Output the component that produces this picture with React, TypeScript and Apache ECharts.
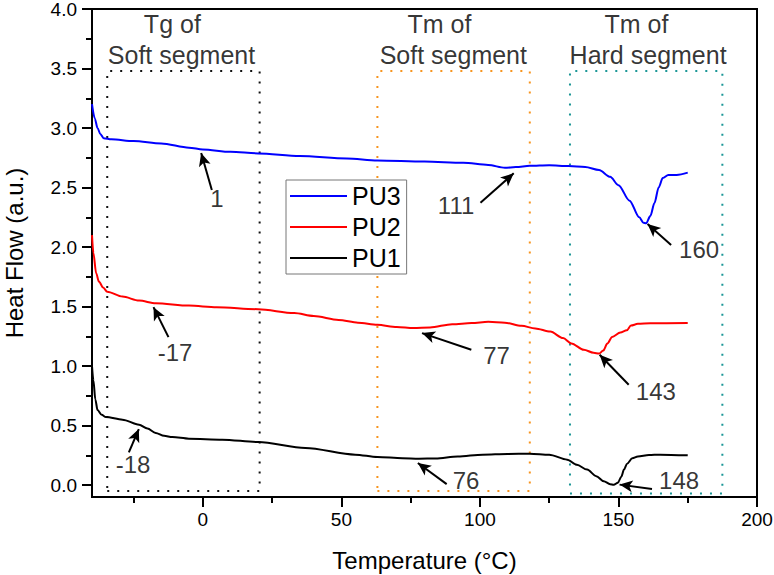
import React, { useEffect, useRef } from "react";
import * as echarts from "echarts";

// ---- Data ----
const pu3Temp = [-40, -39, -38, -37, -35.8, -33, -25, -15, -5, 0, 10, 20, 35, 52, 63, 80, 94, 103, 109, 113, 118, 125, 132, 138, 143, 147, 150, 154, 157.5, 159, 160, 161.5, 163, 164.5, 166, 168, 171, 175];
const pu3Flow = [3.2, 3.08, 3.0, 2.95, 2.915, 2.905, 2.89, 2.87, 2.835, 2.82, 2.8, 2.787, 2.765, 2.745, 2.728, 2.718, 2.708, 2.69, 2.666, 2.672, 2.683, 2.688, 2.68, 2.672, 2.647, 2.59, 2.52, 2.39, 2.25, 2.205, 2.2, 2.26, 2.37, 2.5, 2.58, 2.605, 2.606, 2.625];

const pu2Temp = [-40, -39.5, -38.5, -37.5, -36, -34.5, -29, -23, -17, -5, 5, 20, 33, 40, 49, 56, 63, 70, 76, 82, 90, 97, 103, 109, 115, 120, 125.4, 130, 133, 137.5, 141, 143, 144.5, 146, 147.7, 150.7, 153, 154.5, 157, 161.5, 175];
const pu2Flow = [2.1, 1.95, 1.78, 1.71, 1.66, 1.625, 1.584, 1.55, 1.528, 1.508, 1.495, 1.478, 1.445, 1.42, 1.388, 1.365, 1.347, 1.328, 1.319, 1.325, 1.352, 1.361, 1.372, 1.365, 1.338, 1.316, 1.29, 1.235, 1.19, 1.137, 1.112, 1.105, 1.13, 1.19, 1.245, 1.282, 1.3, 1.34, 1.355, 1.36, 1.361];

const pu1Temp = [-40, -39.5, -38.8, -38, -36.5, -35, -29, -23, -20, -17, -14, -11, -5, 7, 20, 37, 55, 63, 72, 78, 84, 92, 101, 110, 118, 125, 131.5, 135, 138.7, 142, 144.7, 147, 148.3, 149.8, 151, 152, 153.1, 155, 157, 161, 165, 175];
const pu1Flow = [1.0, 0.88, 0.72, 0.63, 0.59, 0.572, 0.55, 0.508, 0.475, 0.438, 0.414, 0.404, 0.39, 0.382, 0.362, 0.312, 0.256, 0.236, 0.226, 0.222, 0.224, 0.24, 0.256, 0.262, 0.264, 0.255, 0.214, 0.17, 0.13, 0.075, 0.032, 0.008, 0.003, 0.02, 0.07, 0.13, 0.18, 0.225, 0.24, 0.252, 0.256, 0.25];

const seriesNames = ["PU3", "PU2", "PU1"];

const xMajorTicks = [0, 50, 100, 150, 200];
const xMinorTicks = [-25, 25, 75, 125, 175];
const yMajorTicks = [0, 0.5, 1, 1.5, 2, 2.5, 3, 3.5, 4];
const yMinorTicks = [0.25, 0.75, 1.25, 1.75, 2.25, 2.75, 3.25, 3.75];

// region boxes: [xStart, xEnd, yBottom, yTop]
const tgSoftBox = [-34.5, 20.5, -0.05, 3.48];
const tmSoftBox = [63, 118, -0.05, 3.48];
const tmHardBox = [132.5, 187.5, -0.07, 3.48];

// region headings
const headingX = [-11, -7.7, 85.4, 90.4, 156.5, 160.7];
const headingY = [3.872, 3.611, 3.872, 3.611, 3.872, 3.611];
const headingText = ["Tg of", "Soft segment", "Tm of", "Soft segment", "Tm of", "Hard segment"];

// peak labels
const peakLabelX = [5.1, -10, -25.2, 91.4, 106, 95, 171.9, 163.5, 179.1];
const peakLabelY = [2.412, 1.112, 0.172, 2.345, 1.086, 0.042, 0.042, 0.784, 1.976];
const peakLabelText = ["1", "-17", "-18", "111", "77", "76", "148", "143", "160"];

// arrows: tail -> tip
const arrowTailX = [3.25, -12.4, -26.7, 100.2, 96.9, 88.0, 162.1, 153.7, 169.0];
const arrowTailY = [2.479, 1.243, 0.275, 2.372, 1.137, 0.008, -0.032, 0.843, 2.018];
const arrowTipX = [-0.6, -17.8, -23.1, 112.2, 79.1, 77.6, 150.4, 143.2, 160.5];
const arrowTipY = [2.79, 1.495, 0.471, 2.619, 1.277, 0.186, 0.004, 1.095, 2.194];

const FONT = "Arial, 'Liberation Sans', Helvetica, sans-serif";

function pairs(xs: number[], ys: number[]) {
  return xs.map((x, i) => [x, ys[i]]);
}

function boxPath(b: number[]) {
  const [x1, x2, y1, y2] = b;
  return [[x1, y1], [x2, y1], [x2, y2], [x1, y2], [x1, y1]];
}

export default function App() {
  const ref = useRef<HTMLDivElement>(null);

  useEffect(() => {
    if (!ref.current) return;
    const chart = echarts.init(ref.current, undefined, { renderer: "svg" });

    const curve = (name: string, color: string, xs: number[], ys: number[]) => ({
      name,
      type: "line",
      data: pairs(xs, ys),
      showSymbol: false,
      symbol: "none",
      smooth: 0.3,
      smoothMonotone: "x",
      lineStyle: { color, width: 2 },
      itemStyle: { color },
      silent: true,
      z: 5,
    });

    const box = (name: string, color: string, b: number[]) => ({
      name,
      type: "line",
      data: boxPath(b),
      showSymbol: false,
      symbol: "none",
      lineStyle: { color, width: 2, type: [2, 8] },
      silent: true,
      z: 2,
    });

    const textLabel = (size: number) => ({
      show: true,
      position: "inside",
      formatter: "{b}",
      fontSize: size,
      color: "#000",
      textBorderWidth: 0,
      fontFamily: FONT,
    });

    const option: any = {
      animation: false,
      backgroundColor: "#fff",
      textStyle: { fontFamily: FONT },
      grid: {
        left: 92,
        right: 17,
        top: 9,
        bottom: 78,
        containLabel: false,
        outerBoundsMode: "none",
        show: true,
        borderColor: "#000",
        borderWidth: 2,
        backgroundColor: "transparent",
      },
      legend: {
        data: seriesNames,
        orient: "vertical",
        left: 286,
        top: 180,
        padding: [2, 6, 2, 4],
        itemGap: 3,
        icon: "rect",
        itemWidth: 57,
        itemHeight: 2,
        borderColor: "#777",
        borderWidth: 1,
        backgroundColor: "#fff",
        textStyle: { fontSize: 25, color: "#000", fontFamily: FONT, lineHeight: 28 },
        selectedMode: false,
      },
      xAxis: [
        {
          type: "value",
          min: -40,
          max: 200,
          position: "bottom",
          name: "Temperature (°C)",
          nameLocation: "middle",
          nameGap: 51,
          nameTextStyle: { fontSize: 24, color: "#000", fontFamily: FONT },
          axisLine: { show: true, onZero: false, lineStyle: { color: "#000", width: 2 } },
          axisTick: { show: true, customValues: xMajorTicks, length: 10, lineStyle: { color: "#000", width: 2 } },
          axisLabel: {
            show: true,
            customValues: xMajorTicks,
            fontSize: 19,
            color: "#000",
            margin: 13,
            fontFamily: FONT,
            formatter: (v: number) => String(v),
          },
          splitLine: { show: false },
        },
        {
          type: "value",
          min: -40,
          max: 200,
          position: "bottom",
          axisLine: { show: false, onZero: false },
          axisTick: { show: true, customValues: xMinorTicks, length: 6, lineStyle: { color: "#000", width: 2 } },
          axisLabel: { show: false },
          splitLine: { show: false },
        },
      ],
      yAxis: [
        {
          type: "value",
          min: -0.1,
          max: 4.0,
          position: "left",
          name: "Heat Flow (a.u.)",
          nameLocation: "middle",
          nameGap: 66,
          nameRotate: 90,
          nameTextStyle: { fontSize: 24, color: "#000", fontFamily: FONT },
          axisLine: { show: true, onZero: false, lineStyle: { color: "#000", width: 2 } },
          axisTick: { show: true, customValues: yMajorTicks, length: 10, lineStyle: { color: "#000", width: 2 } },
          axisLabel: {
            show: true,
            customValues: yMajorTicks,
            fontSize: 19,
            color: "#000",
            margin: 15,
            fontFamily: FONT,
            formatter: (v: number) => v.toFixed(1),
          },
          splitLine: { show: false },
        },
        {
          type: "value",
          min: -0.1,
          max: 4.0,
          position: "left",
          axisLine: { show: false, onZero: false },
          axisTick: { show: true, customValues: yMinorTicks, length: 6, lineStyle: { color: "#000", width: 2 } },
          axisLabel: { show: false },
          splitLine: { show: false },
        },
      ],
      series: [
        box("box-tg", "#111", tgSoftBox),
        box("box-tm-soft", "#F7941D", tmSoftBox),
        box("box-tm-hard", "#1A9696", tmHardBox),
        curve("PU3", "#0000FF", pu3Temp, pu3Flow),
        curve("PU2", "#FF0000", pu2Temp, pu2Flow),
        curve("PU1", "#000000", pu1Temp, pu1Flow),
        {
          name: "headings",
          type: "scatter",
          symbolSize: 0,
          silent: true,
          z: 6,
          itemStyle: { color: "#000" },
          data: headingX.map((x, i) => ({ value: [x, headingY[i]], name: headingText[i] })),
          label: textLabel(25),
        },
        {
          name: "peaks",
          type: "scatter",
          symbolSize: 0,
          silent: true,
          z: 6,
          itemStyle: { color: "#000" },
          data: peakLabelX.map((x, i) => ({ value: [x, peakLabelY[i]], name: peakLabelText[i] })),
          label: textLabel(24),
          markLine: {
            silent: true,
            symbol: ["none", "arrow"],
            symbolSize: [9, 13],
            label: { show: false },
            lineStyle: { color: "#000", width: 2, type: "solid" },
            emphasis: { disabled: true },
            data: arrowTailX.map((x, i) => [
              { coord: [x, arrowTailY[i]] },
              { coord: [arrowTipX[i], arrowTipY[i]] },
            ]),
          },
        },
      ],
    };

    chart.setOption(option);
    return () => chart.dispose();
  }, []);

  return (
    <div
      ref={ref}
      style={{ position: "fixed", left: 0, top: 0, width: 774, height: 575, background: "#fff" }}
    />
  );
}
